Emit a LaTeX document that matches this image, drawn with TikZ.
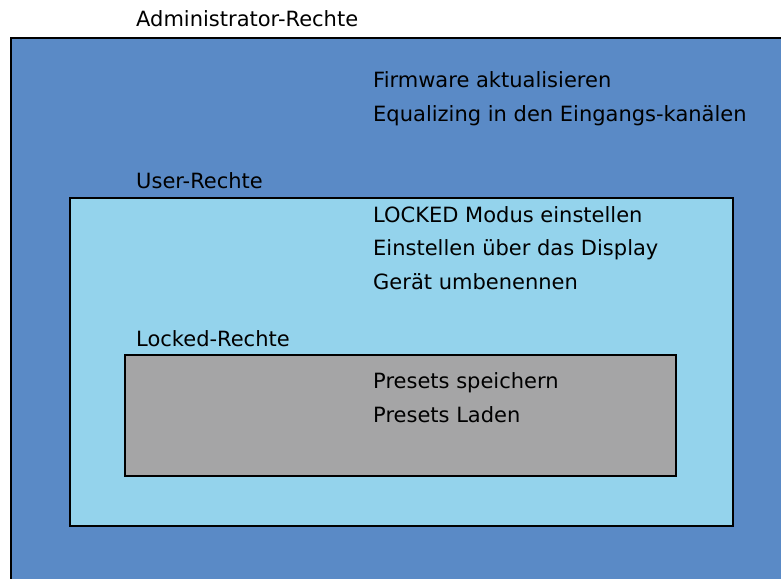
\documentclass[tikz,border=0pt]{standalone}
\usepackage{fontspec}
\setmainfont{DejaVu Sans}
\definecolor{adminblue}{HTML}{5A8AC6}
\definecolor{userblue}{HTML}{94D3EC}
\definecolor{lockgray}{HTML}{A5A5A6}
\begin{document}
\begin{tikzpicture}[x=1pt,y=-1pt,
  lbl/.style={anchor=base west,inner sep=0pt,font=\fontsize{21}{25}\selectfont},
  box/.style={draw=black,line width=2.4pt}]
\useasboundingbox (0,0) rectangle (781,578);
\clip (0,0) rectangle (781,578);
\fill[white] (0,0) rectangle (781,578);
\filldraw[box,fill=adminblue] (11,38) rectangle (820,620);
\filldraw[box,fill=userblue] (70,198) rectangle (733,526);
\filldraw[box,fill=lockgray] (125,355) rectangle (676,476);
\node[lbl] (admin) at (136,27) {Administrator-Rechte};
\node[lbl] (a1) at (373,87) {Firmware aktualisieren};
\node[lbl] (a2) at (373,121) {Equalizing in den Eingangs-kanälen};
\node[lbl] (user) at (136,188) {User-Rechte};
\node[lbl] (u1) at (373,222) {LOCKED Modus einstellen};
\node[lbl] (u2) at (373,255) {Einstellen über das Display};
\node[lbl] (u3) at (373,289) {Gerät umbenennen};
\node[lbl] (lock) at (136,346) {Locked-Rechte};
\node[lbl] (l1) at (373,388) {Presets speichern};
\node[lbl] (l2) at (373,422) {Presets Laden};
\end{tikzpicture}
\end{document}
